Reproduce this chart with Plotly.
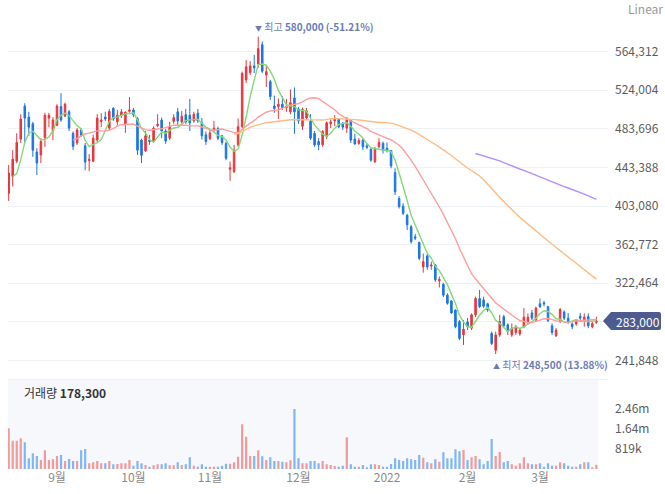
import plotly.graph_objects as go
import pandas as pd

# ---------------- data ----------------
holidays = ['2021-08-16', '2021-09-20', '2021-09-21', '2021-09-22', '2021-10-04',
            '2021-10-11', '2021-12-31', '2022-01-31', '2022-02-01', '2022-02-02',
            '2022-03-01', '2022-03-09']
dates = pd.bdate_range('2021-08-13', '2022-03-23', freq='C',
                       holidays=holidays).strftime('%Y-%m-%d').tolist()

# closes of the three sessions before the first visible one (moving-average warm-up)
prior_close = [454000, 420500, 405000]

open_ = [416500, 434000, 450000, 473000, 507500, 496000, 489000, 459500, 456500, 474500,
         495000, 481500, 487500, 507000, 497000, 501500, 479000, 469000, 482500, 466000,
         450500, 450000, 472000, 491500, 496000, 484500, 505000, 491000, 497500, 489000,
         502000, 503500, 494500, 472000, 460500, 472000, 470500, 487000, 493000, 481500,
         474000, 491500, 501500, 491000, 498500, 498000, 492000, 500000, 490000, 477500,
         473500, 482500, 484000, 476500, 468500, 441500, 439000, 467000, 486000, 535000,
         542500, 549500, 551500, 571500, 540000, 533000, 507500, 507000, 509500, 505500,
         501500, 516000, 504500, 486500, 495000, 492000, 479000, 470500, 467000, 475500,
         489000, 492000, 493500, 489500, 484500, 493000, 473000, 468500, 472000, 466000,
         462500, 449500, 465000, 468500, 463500, 461000, 438000, 411000, 403000, 393500,
         381500, 371000, 365000, 339500, 351000, 340500, 341500, 325000, 321500, 310000,
         304000, 294500, 282500, 268500, 282000, 275500, 289500, 306500, 305000, 301000,
         270000, 252500, 268500, 287500, 279000, 268500, 271000, 269500, 277000, 282500,
         291500, 284000, 301000, 302000, 298000, 278000, 267500, 282500, 292500, 286000,
         280000, 280000, 288000, 284000, 287500, 277000, 281500]

high = [446000, 461500, 479000, 499000, 510500, 501500, 491000, 463500, 474000, 500500,
        500500, 496000, 509500, 521000, 511000, 503500, 481000, 484500, 484000, 469000,
        457500, 477500, 499000, 500000, 501500, 504500, 506500, 503500, 504500, 502000,
        517000, 505500, 496000, 473500, 481500, 477500, 486500, 499000, 495500, 483500,
        491000, 499000, 505500, 502500, 504500, 515000, 501500, 504500, 495000, 481000,
        482500, 492000, 486000, 477500, 470500, 449500, 467000, 494500, 543500, 555500,
        554500, 561000, 580000, 575000, 550500, 535000, 518500, 515500, 518000, 515000,
        525000, 527000, 506500, 506000, 505500, 499000, 481500, 474000, 482500, 491500,
        493500, 498000, 495000, 491000, 496000, 494000, 478500, 474000, 473000, 468500,
        463500, 465000, 474000, 470500, 469500, 461500, 442500, 413500, 406000, 395000,
        383500, 374000, 366000, 353500, 353000, 345000, 342500, 329500, 323000, 312000,
        305000, 295000, 284000, 284000, 286000, 291000, 308500, 315500, 308500, 302000,
        272000, 272000, 289500, 289500, 280500, 280500, 279000, 275500, 296500, 291000,
        294500, 298000, 306500, 304000, 298500, 280500, 275500, 296500, 294000, 291500,
        281500, 285000, 291500, 291000, 291000, 282500, 287500]

low = [408500, 423500, 448000, 469000, 469000, 476500, 454500, 435500, 448000, 465000,
       485500, 472000, 486500, 491000, 496000, 481500, 461500, 467000, 475000, 440500,
       439500, 449000, 470000, 485500, 492000, 482500, 492000, 487500, 495000, 479500,
       500500, 496000, 456500, 448000, 459500, 467000, 469000, 485500, 474000, 468000,
       472000, 489000, 486500, 489000, 489000, 481500, 490000, 490000, 472500, 467000,
       472000, 480500, 472000, 467000, 451000, 429500, 437500, 465000, 484500, 531500,
       540000, 542000, 547500, 542000, 527500, 514000, 500500, 494000, 503500, 501500,
       499000, 478500, 489000, 482500, 493000, 472000, 465000, 461500, 465000, 473000,
       484500, 486500, 484500, 482500, 479500, 469000, 467000, 467000, 461500, 462500,
       449500, 448000, 463500, 458000, 459000, 442500, 414500, 400500, 393500, 378000,
       364000, 367500, 346500, 333500, 336500, 336500, 324000, 318000, 308000, 300000,
       290500, 275500, 263000, 258000, 273500, 273500, 287000, 296500, 296500, 292500,
       258000, 248500, 266500, 275500, 268500, 266500, 268500, 267500, 275500, 279000,
       284000, 282000, 296500, 298500, 282000, 268500, 266500, 281000, 284000, 280000,
       274500, 278000, 284000, 277000, 275500, 275500, 280000]

close = [437500, 452000, 469500, 494000, 495000, 485500, 461500, 448000, 470500, 498000,
         498000, 493000, 507500, 493000, 509500, 484500, 465500, 482500, 477000, 449000,
         452000, 474000, 495000, 493000, 494000, 502000, 494000, 498000, 501500, 501000,
         503500, 498500, 461500, 456000, 476500, 470500, 484500, 488500, 481500, 471000,
         486500, 495500, 492000, 497000, 491000, 490000, 499000, 492000, 476500, 470500,
         479500, 484500, 474000, 469500, 453000, 443000, 461500, 486000, 541500, 548500,
         549500, 547500, 567500, 544000, 543500, 517500, 505000, 509500, 506000, 507000,
         511000, 501500, 492000, 504000, 502500, 474000, 467000, 467000, 481000, 490000,
         491000, 493500, 486000, 485500, 494500, 472000, 468000, 471500, 465000, 464500,
         451000, 462500, 469500, 461500, 461000, 445000, 418000, 402500, 395500, 383500,
         366000, 369500, 348500, 345000, 339500, 341500, 326000, 326500, 310000, 301500,
         291500, 277000, 265000, 274500, 277000, 289500, 306500, 298000, 298500, 294500,
         259500, 268500, 282500, 278000, 272000, 275500, 277000, 273500, 287000, 287000,
         286000, 296500, 298000, 301000, 283500, 271000, 273500, 295000, 286000, 281500,
         277000, 283500, 286000, 287000, 278000, 280500, 283000]

volume = [1665000, 1160000, 1160000, 1256000, 1092000, 437000, 641000, 532000, 369000, 764000,
          369000, 396000, 532000, 573000, 328000, 410000, 328000, 328000, 764000, 819000,
          232000, 273000, 328000, 232000, 232000, 328000, 191000, 205000, 232000, 232000,
          369000, 137000, 328000, 232000, 164000, 96000, 150000, 191000, 191000, 232000,
          150000, 150000, 273000, 164000, 191000, 478000, 137000, 96000, 191000, 96000,
          96000, 96000, 96000, 137000, 218000, 218000, 273000, 505000, 1830000, 1320000,
          532000, 532000, 764000, 519000, 369000, 478000, 328000, 328000, 300000, 273000,
          355000, 2457000, 437000, 232000, 232000, 328000, 328000, 232000, 328000, 191000,
          164000, 123000, 96000, 137000, 1300000, 191000, 96000, 96000, 164000, 68000,
          191000, 191000, 164000, 96000, 96000, 205000, 437000, 369000, 328000, 437000,
          396000, 369000, 573000, 464000, 273000, 232000, 396000, 300000, 683000, 437000,
          437000, 805000, 723000, 778000, 369000, 478000, 532000, 396000, 191000, 328000,
          1230000, 532000, 696000, 273000, 328000, 191000, 137000, 232000, 478000, 232000,
          191000, 191000, 232000, 96000, 232000, 137000, 137000, 273000, 232000, 137000,
          96000, 96000, 191000, 273000, 273000, 55000, 178300]

ma_periods = [5, 20, 60, 120]

month_tick_dates = ['2021-09-01', '2021-10-01', '2021-11-01', '2021-12-01',
                    '2022-01-03', '2022-02-03', '2022-03-02']
month_tick_text = ['9월', '10월', '11월', '12월', '2022', '2월', '3월']

price_ticks = [241848, 282156, 322464, 362772, 403080, 443388, 483696, 524004, 564312]
volume_ticks = [819000, 1638000, 2457000]
volume_tick_text = ['819k', '1.64m', '2.46m']

dates = dates[:len(close)]

# ---------------- styles ----------------
UP = '#e8363c'
DOWN = '#1a74e6'
UP_VOL = '#f29a9a'
DOWN_VOL = '#80b6f4'
MA_COLORS = {5: '#84d976', 20: '#ff9d9d', 60: '#ffbb82', 120: '#b68dff'}
FONT = 'Noto Sans CJK KR'

fig = go.Figure()

vol_colors = [UP_VOL if c >= o else DOWN_VOL for o, c in zip(open_, close)]
fig.add_trace(go.Bar(x=dates, y=volume, marker=dict(color=vol_colors, line=dict(width=0)),
                     width=0.55, xaxis='x', yaxis='y2', hoverinfo='skip', showlegend=False))

fig.add_trace(go.Candlestick(
    x=dates, open=open_, high=high, low=low, close=close,
    increasing=dict(line=dict(color=UP, width=1), fillcolor=UP),
    decreasing=dict(line=dict(color=DOWN, width=1), fillcolor=DOWN),
    whiskerwidth=0, xaxis='x', yaxis='y', showlegend=False, hoverinfo='skip'))

closes_all = pd.Series(prior_close + close, dtype=float)
for n in ma_periods:
    ma = closes_all.rolling(n).mean().iloc[len(prior_close):].tolist()
    fig.add_trace(go.Scatter(x=dates, y=ma, mode='lines',
                             line=dict(color=MA_COLORS[n], width=1.4),
                             xaxis='x', yaxis='y', hoverinfo='skip', showlegend=False))

i_high = max(range(len(high)), key=lambda i: high[i])
i_low = min(range(len(low)), key=lambda i: low[i])
last = close[-1]
pct_high = (last / high[i_high] - 1) * 100
pct_low = (last / low[i_low] - 1) * 100

ANN_COLOR = '#6b7bb6'
annotations = [
    dict(x=dates[i_high], y=high[i_high], xref='x', yref='y', showarrow=False,
         xanchor='left', yanchor='bottom', xshift=-5, yshift=1,
         text=f'<span style="font-size:7px">▼</span> 최고 <b>{high[i_high]:,} ({pct_high:.2f}%)</b>',
         font=dict(family=FONT, size=10, color=ANN_COLOR)),
    dict(x=dates[i_low], y=low[i_low], xref='x', yref='y', showarrow=False,
         xanchor='left', yanchor='top', xshift=-5, yshift=-1,
         text=f'<span style="font-size:7px">▲</span> 최저 <b>{low[i_low]:,} ({pct_low:.2f}%)</b>',
         font=dict(family=FONT, size=10, color=ANN_COLOR)),
    dict(x=0.023, y=0.2045, xref='paper', yref='paper', showarrow=False,
         xanchor='left', yanchor='middle',
         text=f'거래량 <b>{volume[-1]:,}</b>',
         font=dict(family=FONT, size=12, color='#333333')),
    dict(x=1, y=1, xref='paper', yref='paper', showarrow=False,
         xanchor='left', yanchor='top', xshift=18, yshift=2,
         text='Linear', font=dict(family=FONT, size=12, color='#999999')),
    dict(x=1, y=last, xref='paper', yref='y', showarrow=False,
         xanchor='left', yanchor='middle', xshift=6,
         text=f'{last:,}', font=dict(family=FONT, size=12, color='white')),
]

shapes = [
    dict(type='rect', xref='x', yref='y2 domain', x0=-0.45, x1=len(close) - 0.55,
         y0=0, y1=1, fillcolor='#f6f8fc', line=dict(width=0), layer='below'),
    dict(type='line', xref='paper', yref='paper', x0=0, x1=1, y0=0.2322, y1=0.2322,
         line=dict(color='#eceff4', width=1), layer='below'),
    dict(type='path', xref='paper', yref='y', xsizemode='pixel', ysizemode='pixel',
         xanchor=1, yanchor=last,
         path='M -5,0 L 3,9 L 51,9 Q 53,9 53,7 L 53,-7 Q 53,-9 51,-9 L 3,-9 Z',
         fillcolor='#4d5b8e', line=dict(width=0), layer='above'),
]

price_tick_text = ['' if abs(v - last) < 3000 else f'{v:,}' for v in price_ticks]

fig.update_layout(
    width=665, height=494,
    margin=dict(l=8, r=57, t=0, b=0),
    paper_bgcolor='white', plot_bgcolor='white',
    font=dict(family=FONT, size=12, color='#666666'),
    showlegend=False, boxgap=0.45, bargap=0.4,
    hovermode=False,
    xaxis=dict(type='category', range=[-0.17, 148.9], anchor='y2',
               showgrid=False, zeroline=False, showline=False, ticks='',
               tickmode='array', tickvals=month_tick_dates, ticktext=month_tick_text,
               tickfont=dict(family=FONT, size=12, color='#8a8a8a'),
               rangeslider=dict(visible=False), fixedrange=True),
    yaxis=dict(domain=[0.2322, 0.9838], range=[222128, 609957], side='right', anchor='x',
               tickmode='array', tickvals=price_ticks, ticktext=price_tick_text,
               showgrid=True, gridcolor='#eef1f6', gridwidth=1, zeroline=False,
               showline=False, ticks='', ticklabelstandoff=6,
               tickfont=dict(family=FONT, size=12, color='#5c5c5c'), fixedrange=True),
    yaxis2=dict(domain=[0.0506, 0.2322], range=[0, 3673000], side='right', anchor='x',
                tickmode='array', tickvals=volume_ticks, ticktext=volume_tick_text,
                showgrid=False, zeroline=False, showline=False, ticks='',
                ticklabelstandoff=6,
                tickfont=dict(family=FONT, size=12, color='#5c5c5c'), fixedrange=True),
    annotations=annotations,
    shapes=shapes,
)

fig.write_html('out.html')
